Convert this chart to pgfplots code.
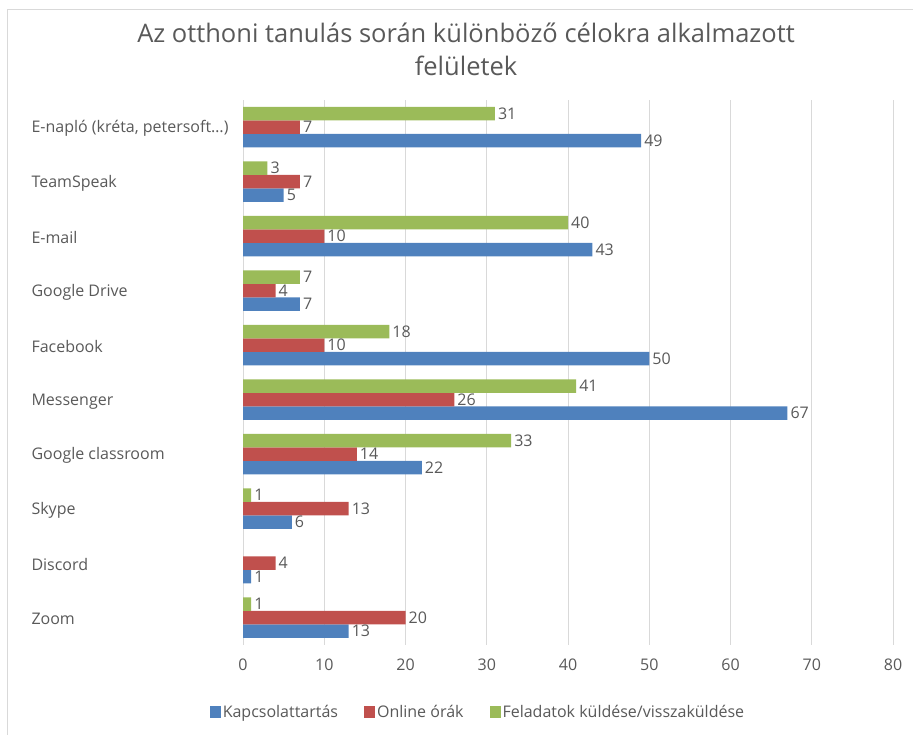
\documentclass[border=0pt]{standalone}
\usepackage{fontspec}
\setmainfont{Open Sans}
\usepackage{pgfplots}
\pgfplotsset{compat=1.18}
\definecolor{cblue}{HTML}{4F81BD}
\definecolor{cred}{HTML}{C0504D}
\definecolor{cgreen}{HTML}{9BBB59}
\definecolor{txt}{HTML}{595959}
\definecolor{gridc}{HTML}{D9D9D9}
\begin{document}
\begin{tikzpicture}[x=1pt,y=1pt]
\useasboundingbox (0,0) rectangle (913,735);
\draw[gridc, line width=1pt] (7,725) -- (913,725);
\draw[gridc, line width=1pt] (7,725) -- (7,0);
\node[text=txt, align=center, font=\fontsize{25.5}{33}\selectfont] at (466,686) {Az otthoni tanulás során különböző célokra alkalmazott\\felületek};
\begin{axis}[at={(243pt,90pt)}, anchor=south west, scale only axis, width=650pt, height=545pt,
 xbar=0pt, bar width=13.5pt, xmin=0, xmax=80, ymin=-0.5, ymax=9.5,
 xtick={0,10,...,80}, ytick={0,...,9},
 yticklabels={Zoom, Discord, Skype, Google classroom, Messenger, Facebook, Google Drive, E-mail, TeamSpeak, {E-napló (kréta, petersoft…)}},
 xmajorgrids, grid style={gridc, line width=1pt}, axis line style={draw=none}, major tick length=0pt,
 tick label style={font=\fontsize{16}{19}\selectfont, text=txt},
 /pgf/number format/assume math mode=true,
 yticklabel style={anchor=west, xshift=-215pt, yshift=-1.5pt},
 xticklabel style={yshift=-10pt},
 nodes near coords, nodes near coords style={font=\fontsize{16}{19}\selectfont, text=txt, anchor=west, inner sep=3pt},
 legend style={at={(0.3615,-0.123)}, anchor=center, legend columns=3, draw=none, font=\fontsize{16}{19}\selectfont, text=txt, /tikz/every even column/.append style={column sep=24pt}},
 legend image code/.code={\fill[#1] (0pt,-6pt) rectangle (11pt,6pt);},
]
\addplot[fill=cblue, draw=none] coordinates {(13,0) (1,1) (6,2) (22,3) (67,4) (50,5) (7,6) (43,7) (5,8) (49,9)};
\addplot[fill=cred, draw=none] coordinates {(20,0) (4,1) (13,2) (14,3) (26,4) (10,5) (4,6) (10,7) (7,8) (7,9)};
\addplot[fill=cgreen, draw=none] coordinates {(1,0) (1,2) (33,3) (41,4) (18,5) (7,6) (40,7) (3,8) (31,9)};
\legend{Kapcsolattartás, Online órák, Feladatok küldése/visszaküldése}
\end{axis}
\end{tikzpicture}
\end{document}
